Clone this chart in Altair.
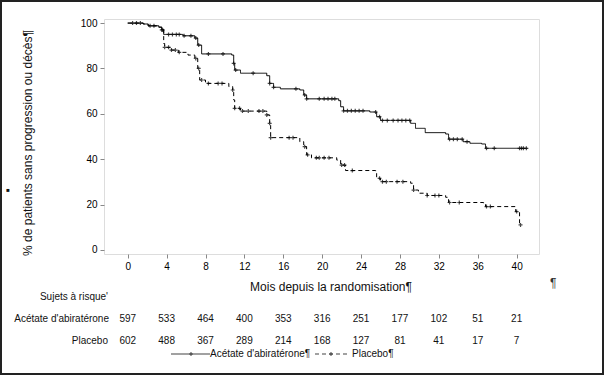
import altair as alt
import pandas as pd

# ---- Kaplan-Meier step points ----
abi_t = [0, 1.6, 2.1, 3.2, 3.5, 3.7, 5.7, 6.9, 7.2, 7.6, 10.7, 10.9, 11.0, 11.6, 14.3, 14.6, 15.0,
         15.7, 17.7, 18.1, 18.4, 21.7, 21.9, 22.2, 24.9, 25.6, 26.0, 29.1, 29.6, 30.6, 32.7, 33.0,
         34.5, 35.2, 36.4, 36.8, 41.1]
abi_v = [100, 99.6, 98.8, 98.2, 97, 95, 94.4, 93.4, 90.3, 86.4, 85.9, 82.2, 79.3, 77.9, 76.8, 73.4,
         71.7, 71.0, 70.5, 68.3, 66.6, 65.8, 63.1, 61.3, 60.8, 58.7, 57.1, 55.8, 53.6, 51.7, 51.1,
         48.8, 47.7, 47.0, 46.7, 44.8, 44.8]

pla_t = [0, 1.6, 2.1, 3.2, 3.5, 3.7, 3.8, 4.5, 5.2, 6.2, 6.9, 7.2, 7.4, 8.0, 10.4, 10.8, 10.9, 11.0,
         11.6, 14.3, 14.6, 14.7, 17.7, 18.1, 18.4, 18.9, 21.5, 21.9, 22.4, 25.5, 25.6, 26.0, 29.1,
         29.4, 29.9, 30.8, 32.7, 33.0, 36.6, 36.8, 39.9, 40.3]
pla_v = [100, 99.6, 98.8, 98.2, 97, 91, 89.3, 88.1, 87.1, 85.9, 84.4, 80, 74.9, 73.4, 72.0, 70.5,
         66.1, 62.4, 61.2, 59.5, 55.8, 49.5, 47.7, 45.5, 41.9, 40.6, 39.6, 37.4, 35.0, 33.8, 31.6,
         30.1, 29.4, 26.4, 25.0, 24.0, 23.2, 20.9, 20.6, 19.1, 16.9, 11.0]

# censoring times (marks "+")
abi_cens = [0.5, 0.9, 1.3, 2.3, 2.7, 3.5, 3.6, 4.2, 4.6, 5.0, 5.3, 5.8, 6.5, 7.0, 7.3, 8.3, 9.8,
            10.9, 11.1, 12.9, 14.6, 15.0, 17.3, 18.2, 18.4, 19.7, 20.2, 20.6, 21.0, 21.3, 22.2,
            22.6, 23.0, 23.4, 23.8, 24.2, 25.5, 25.9, 26.2, 26.7, 27.3, 27.8, 28.2, 28.6, 29.0,
            33.1, 33.5, 33.9, 34.4, 34.9, 36.9, 37.7, 40.3, 40.5, 40.7, 41.0]
pla_cens = [3.8, 4.2, 4.5, 4.9, 5.3, 7.0, 7.3, 7.6, 8.3, 9.3, 9.7, 10.8, 11.0, 11.5, 11.8, 12.4,
            13.5, 13.9, 14.3, 14.6, 14.7, 16.6, 17.0, 18.2, 18.5, 19.4, 19.7, 20.2, 20.7, 22.0,
            22.3, 23.1, 25.9, 26.2, 26.6, 27.7, 28.3, 29.4, 30.8, 31.6, 32.0, 33.1, 34.1, 36.9,
            37.3, 40.0, 40.4]

# ---- number at risk ----
risk_times = [0, 4, 8, 12, 16, 20, 24, 28, 32, 36, 40]
risk_abi = [597, 533, 464, 400, 353, 316, 251, 177, 102, 51, 21]
risk_pla = [602, 488, 367, 289, 214, 168, 127, 81, 41, 17, 7]

G_ABI = "Acétate d'abiratérone"
G_PLA = "Placebo"
FONT = "Liberation Sans"


def step_value(ts, vs, t):
    val = vs[0]
    for a, b in zip(ts, vs):
        if a <= t:
            val = b
    return val


steps = pd.DataFrame(
    [{"time": t, "value": v, "group": G_ABI} for t, v in zip(abi_t, abi_v)]
    + [{"time": t, "value": v, "group": G_PLA} for t, v in zip(pla_t, pla_v)]
)
cens = pd.DataFrame(
    [{"time": t, "value": step_value(abi_t, abi_v, t), "group": G_ABI} for t in abi_cens]
    + [{"time": t, "value": step_value(pla_t, pla_v, t), "group": G_PLA} for t in pla_cens]
)
risk = pd.DataFrame(
    [{"time": t, "n": n, "row": 300} for t, n in zip(risk_times, risk_abi)]
    + [{"time": t, "n": n, "row": 322} for t, n in zip(risk_times, risk_pla)]
)

xscale = alt.Scale(domain=[-2.44, 42.3], nice=False, zero=False)
yscale = alt.Scale(domain=[-1.8, 101.8], nice=False, zero=False)
dash = alt.Scale(domain=[G_ABI, G_PLA], range=[[1, 0], [4, 3]])

x_enc = alt.X("time:Q", scale=xscale,
              axis=alt.Axis(values=risk_times, title=None, domain=False, grid=False,
                            tickSize=4, labelPadding=3))
y_enc = alt.Y("value:Q", scale=yscale,
              axis=alt.Axis(values=[0, 20, 40, 60, 80, 100], title=None, domain=False,
                            grid=False, tickSize=4, labelPadding=3))

lines = alt.Chart(steps).mark_line(interpolate="step-after", color="black", strokeWidth=1).encode(
    x=x_enc, y=y_enc,
    strokeDash=alt.StrokeDash("group:N", scale=dash, legend=None),
    detail="group:N",
)

plus = "M-1,0L1,0M0,-1L0,1"
marks = alt.Chart(cens).mark_point(shape=plus, size=16, color="black", strokeWidth=1.2,
                                   filled=False).encode(
    x=alt.X("time:Q", scale=xscale), y=alt.Y("value:Q", scale=yscale)
)

risk_text = alt.Chart(risk).mark_text(font=FONT, fontSize=10, color="#111",
                                      baseline="middle", align="center").encode(
    x=alt.X("time:Q", scale=xscale), y=alt.Y("row:Q", scale=None), text="n:Q"
)


def label(txt, x, y, size=10, align="left", angle=0, color="#111"):
    props = dict(font=FONT, fontSize=size, color=color, align=align, baseline="middle")
    if angle:
        props["angle"] = angle
    return alt.Chart(pd.DataFrame({"t": [txt]})).mark_text(**props).encode(
        x=alt.value(x), y=alt.value(y), text="t:N"
    )


texts = [
    label("Mois depuis la randomisation¶", 227, 268, size=12, align="center"),
    label("% de patients sans progression ou décès¶", -76, 124, size=12, align="center", angle=270),
    label("Sujets à risque'", 4, 278, align="right"),
    label(G_ABI, 5, 300, align="right"),
    label(G_PLA, 4, 322, align="right"),
    label("Acétate d'abiratérone¶", 106, 335),
    label("Placebo¶", 248, 335),
    label("¶", 446, 264, size=12, color="#333"),
    label("■", -96, 171, size=6, align="center"),
]

one = pd.DataFrame({"a": [0]})
leg_solid = alt.Chart(one).mark_rule(color="#444", strokeWidth=1.2).encode(
    x=alt.value(67), x2=alt.value(106), y=alt.value(335))
leg_dash = alt.Chart(one).mark_rule(color="#444", strokeWidth=1.2, strokeDash=[4, 3]).encode(
    x=alt.value(211), x2=alt.value(244), y=alt.value(335))
leg_p1 = alt.Chart(one).mark_point(shape=plus, size=16, color="#222", strokeWidth=1.2).encode(
    x=alt.value(87), y=alt.value(335))
leg_p2 = alt.Chart(one).mark_point(shape=plus, size=16, color="#222", strokeWidth=1.2).encode(
    x=alt.value(227), y=alt.value(335))
border = alt.Chart(one).mark_rect(fill=None, stroke="#222", strokeWidth=2).encode(
    x=alt.value(-103), x2=alt.value(499), y=alt.value(-18), y2=alt.value(355))

chart = alt.layer(
    lines, marks, risk_text, *texts, leg_solid, leg_dash, leg_p1, leg_p2, border
).properties(
    width=435, height=235,
    autosize=alt.AutoSizeParams(type="none"),
    padding={"left": 104, "top": 19, "right": 65, "bottom": 121},
).configure_view(
    stroke="#444", strokeWidth=1
).configure_axis(
    labelFont=FONT, labelFontSize=11, labelColor="#111", tickColor="#444"
).configure(background="white")

chart.save("out.html", embed_options={"renderer": "svg", "actions": False})
